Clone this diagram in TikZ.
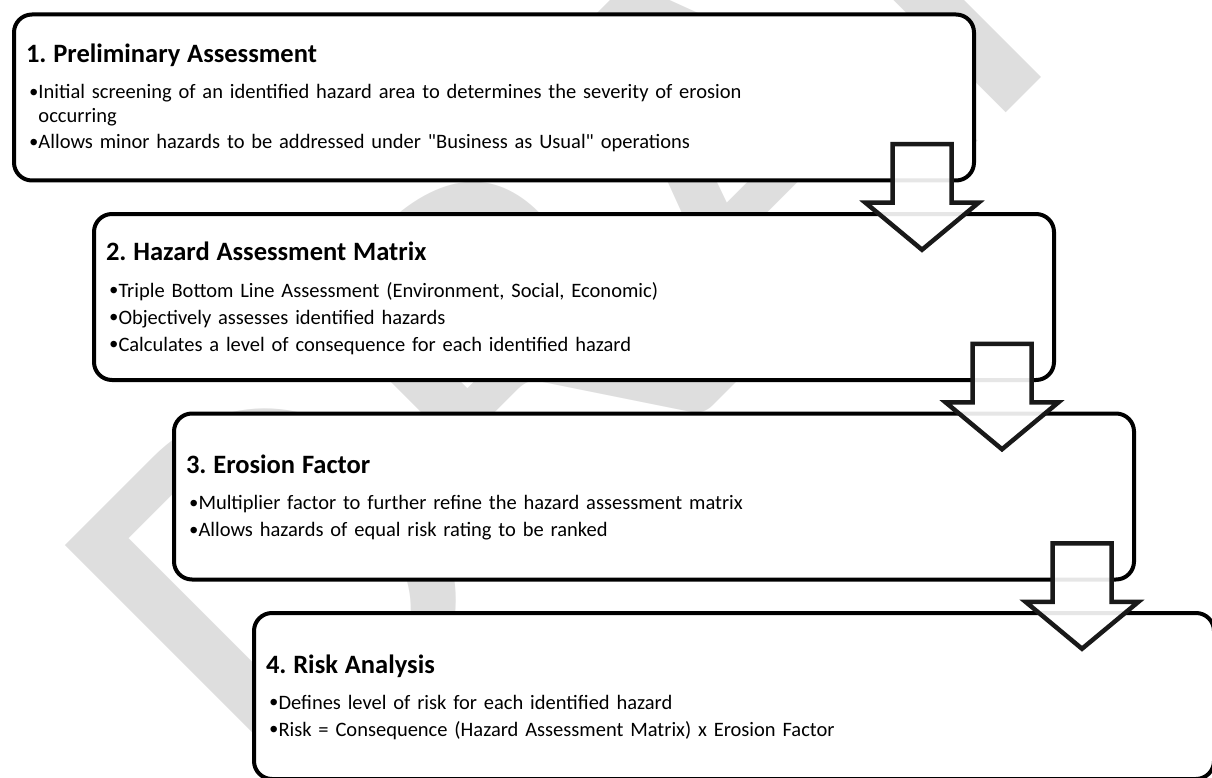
\documentclass[tikz,border=0pt]{standalone}
\usepackage{fontspec}
\setmainfont{Carlito}
\newfontfamily\bulletfont{Liberation Sans}
\usetikzlibrary{calc}
\frenchspacing
\newcommand{\stephead}[1]{{\fontsize{26.5}{30}\selectfont\bfseries\rule{0pt}{22pt}#1}}
\newcommand{\stepbul}{\rule[-5pt]{0pt}{5pt}\hspace*{3.5pt}\makebox[9pt][l]{\raisebox{-1.5pt}{\bulletfont\fontsize{24}{24}\selectfont\textbullet}}}
\tikzset{
  stepbox/.style={draw, line width=4pt, rounded corners=18pt, fill=white,
    minimum width=960pt, minimum height=166pt, text width=936pt, inner xsep=12pt,
    align=left, font=\fontsize{20.5}{24}\selectfont},
  flowarrow/.style={draw=black!90, line width=4.5pt, fill=white, fill opacity=0.9},
  watermark/.style={text=black!13, font=\fontsize{560}{560}\selectfont, rotate=45,
    anchor=base west, inner sep=0pt},
  downarrow/.pic={\draw[flowarrow] (-29.5,-53) -- (29.5,-53) -- (29.5,5.5) -- (56.5,5.5)
    -- (0,52.5) -- (-56.5,5.5) -- (-29.5,5.5) -- cycle;}
}

\begin{document}
\begin{tikzpicture}[x=1pt,y=-1pt]
\useasboundingbox (0,0) rectangle (1212,778);
\clip (0,0) rectangle (1212,778);
\node[watermark] (draft) at (292,827) {DRAFT};
\node[stepbox] (box1) at (494,97.5) {\stephead{1. Preliminary Assessment}\\[12pt]
  \stepbul Initial screening of an identified hazard area to determines the severity of erosion\\
  \hspace*{12.5pt}occurring\\[2pt]
  \stepbul Allows minor hazards to be addressed under \textquotedbl Business as Usual\textquotedbl{} operations};
\node[stepbox] (box2) at (574,297) {\stephead{2. Hazard Assessment Matrix}\\[13pt]
  \stepbul Triple Bottom Line Assessment (Environment, Social, Economic)\\[3pt]
  \stepbul Objectively assesses identified hazards\\[3pt]
  \stepbul Calculates a level of consequence for each identified hazard};
\node[stepbox] (box3) at (654,496.5) {\stephead{3. Erosion Factor}\\[12pt]
  \stepbul Multiplier factor to further refine the hazard assessment matrix\\[3pt]
  \stepbul Allows hazards of equal risk rating to be ranked};
\node[stepbox] (box4) at (734,696) {\stephead{4. Risk Analysis}\\[12pt]
  \stepbul Defines level of risk for each identified hazard\\[3pt]
  \stepbul Risk = Consequence (Hazard Assessment Matrix) x Erosion Factor};
\pic at ($(box1.south east)!.5!(box2.north east)+(-94,0)$) {downarrow};
\pic at ($(box2.south east)!.5!(box3.north east)+(-94,0)$) {downarrow};
\pic at ($(box3.south east)!.5!(box4.north east)+(-94,0)$) {downarrow};
\end{tikzpicture}
\end{document}
